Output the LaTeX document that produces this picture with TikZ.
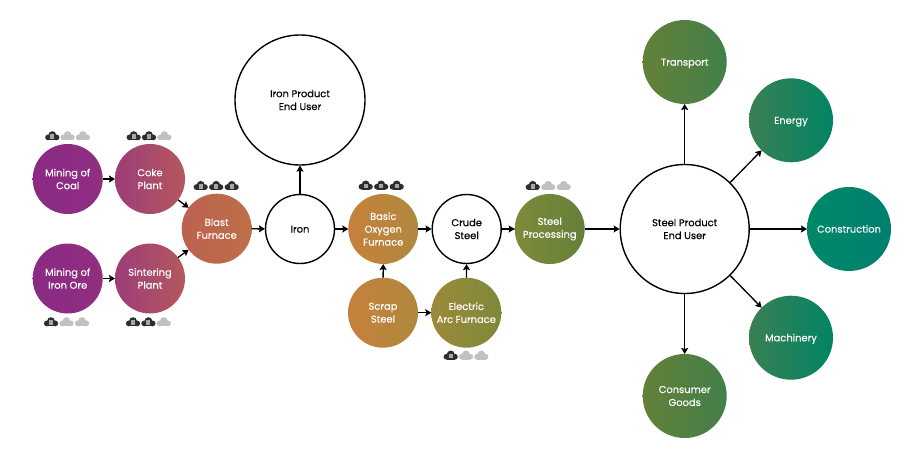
\documentclass[tikz,border=0pt]{standalone}
\usepackage{fontspec}
\setmainfont{Poppins}[FakeBold=0.25]
\usetikzlibrary{arrows.meta}
\definecolor{cd}{HTML}{2E2E2E}
\definecolor{cl}{HTML}{BFC1C2}
\tikzset{
 x=1pt,y=-1pt,
 lab/.style={align=center,font=\fontsize{9.9}{12.9}\selectfont,text=white},
 blob/.style n args={3}{circle,inner sep=0pt,outer sep=0pt,minimum size=#1pt,left color=#2,right color=#3,shading angle=90,lab},
 ring/.style={circle,inner sep=0pt,outer sep=0.6pt,minimum size=#1pt,draw=black,line width=1.4pt,fill=white,align=center,font=\fontsize{9.9}{12.9}\selectfont,text=black},
 conn/.style={draw=black,line width=1.3pt,-{Stealth[length=6pt,width=7pt,inset=1pt]}},
 pics/cloud/.style={code={
  \fill[#1] (-4.2,1.4) circle[radius=2.9];
  \fill[#1] (4.2,1.4) circle[radius=2.9];
  \fill[#1] (0,-0.9) circle[radius=3.9];
  \fill[#1] (-4.2,1.4) rectangle (4.2,4.3);
 }},
 pics/cloudD/.style={code={
  \pic {cloud=cd};
  \fill[gray!70] (-2,-1.6) rectangle (2,2.8);
 }},
}
\definecolor{a1}{HTML}{8A2A85}\definecolor{a2}{HTML}{902E80}
\definecolor{b1}{HTML}{9C3D78}\definecolor{b2}{HTML}{B5585E}
\definecolor{c1}{HTML}{BC6250}\definecolor{c2}{HTML}{BE6E48}
\definecolor{d1}{HTML}{C6803C}\definecolor{d2}{HTML}{B0883E}
\definecolor{e1}{HTML}{9A8A3A}\definecolor{e2}{HTML}{80883A}
\definecolor{f1}{HTML}{7E8A3A}\definecolor{f2}{HTML}{64803A}
\definecolor{g1}{HTML}{648038}\definecolor{g2}{HTML}{42804A}
\definecolor{h1}{HTML}{3A8052}\definecolor{h2}{HTML}{008465}
\definecolor{i1}{HTML}{008868}\definecolor{i2}{HTML}{007F70}
\newcommand{\one}[1]{\raisebox{-3.6pt}[0pt][0pt]{#1}}
\newcommand{\clouds}[5]{%
 \pic at (#1,#3) {cloudD};
 \pic at (#1+#2,#3) {#4};
 \pic at (#1+2*#2,#3) {#5};
}
\begin{document}
\begin{tikzpicture}
\useasboundingbox (0,0) rectangle (919,458);
\node[blob={70}{a1}{a2}] (coal) at (67.7,179) {Mining of\\Coal};
\node[blob={70}{b1}{b2}] (coke) at (150,179) {Coke\\Plant};
\node[blob={70}{a1}{a2}] (ore) at (67.7,278.5) {Mining of\\Iron Ore};
\node[blob={70}{b1}{b2}] (sinter) at (150,278.5) {Sintering\\Plant};
\node[blob={70}{c1}{c2}] (blast) at (216.7,228.7) {Blast\\Furnace};
\node[ring=69] (iron) at (300,229) {\one{Iron}};
\node[ring=130] (ironuser) at (300,100) {Iron Product\\End User};
\node[blob={70}{d1}{d2}] (bof) at (383.3,229) {Basic\\Oxygen\\Furnace};
\node[ring=69] (crude) at (466.7,229) {Crude\\Steel};
\node[blob={70}{f1}{f2}] (proc) at (549.7,229) {Steel\\Processing};
\node[blob={70}{d1}{d2}] (scrap) at (383,312.7) {Scrap\\Steel};
\node[blob={70}{e1}{e2}] (eaf) at (466.3,312.7) {Electric\\Arc Furnace};
\node[ring=129] (steeluser) at (684.7,229) {Steel Product\\End User};
\node[blob={84}{g1}{g2}] (transport) at (684.7,62) {\one{Transport}};
\node[blob={84}{h1}{h2}] (energy) at (791,120.3) {\one{Energy}};
\node[blob={84}{i1}{i2}] (constr) at (849,229) {\one{Construction}};
\node[blob={84}{h1}{h2}] (mach) at (791,337.7) {\one{Machinery}};
\node[blob={84}{g1}{g2}] (goods) at (684.7,396) {Consumer\\Goods};
\foreach \a/\b in {coal/coke,ore/sinter,coke/blast,sinter/blast,blast/iron,iron/ironuser,iron/bof,bof/crude,crude/proc,scrap/bof,scrap/eaf,eaf/crude,proc/steeluser,steeluser/transport,steeluser/energy,steeluser/constr,steeluser/mach,steeluser/goods}
  \draw[conn] (\a) -- (\b);
\clouds{52.3}{15.3}{136}{cloud=cl}{cloud=cl}
\clouds{133.7}{15.3}{136}{cloudD}{cloud=cl}
\clouds{200.7}{15.5}{185.7}{cloudD}{cloudD}
\clouds{51}{15.5}{322}{cloud=cl}{cloud=cl}
\clouds{133}{15.4}{322}{cloudD}{cloud=cl}
\clouds{365.7}{15.5}{185.3}{cloudD}{cloudD}
\clouds{532.7}{15.5}{185.7}{cloud=cl}{cloud=cl}
\clouds{450.7}{15.3}{355.3}{cloud=cl}{cloud=cl}
\end{tikzpicture}
\end{document}
